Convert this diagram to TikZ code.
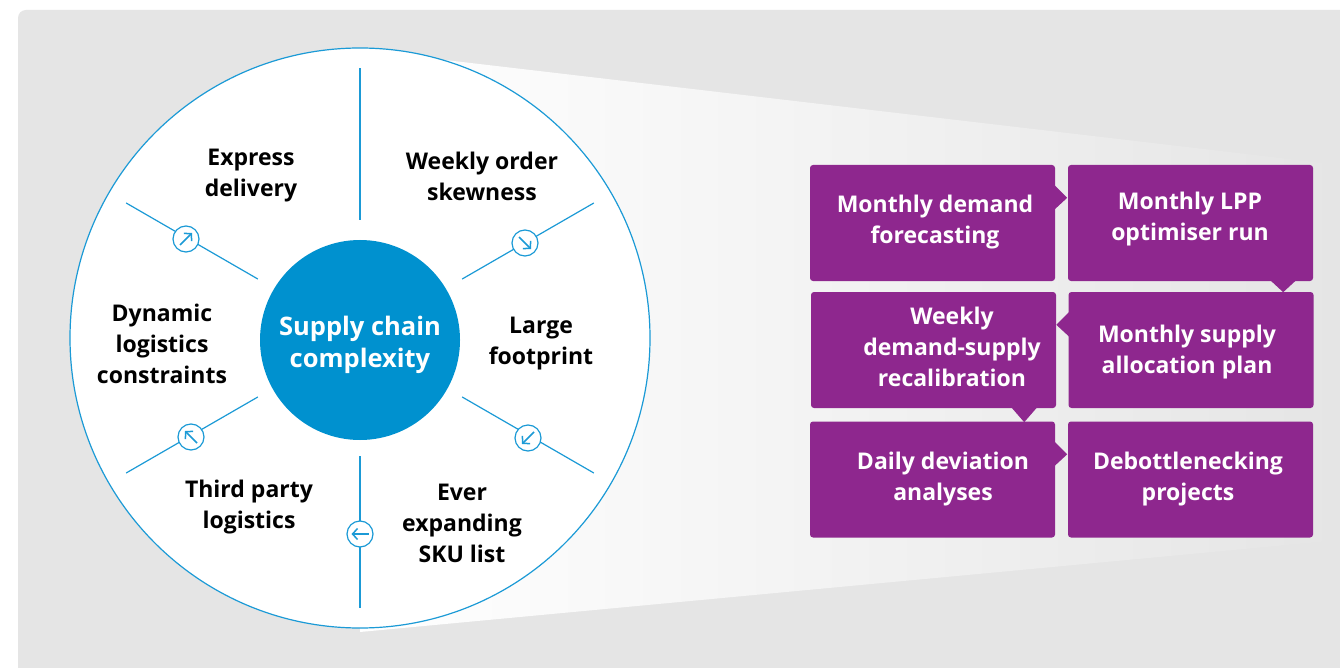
\documentclass[tikz,border=0pt]{standalone}
\usepackage{fontspec}
\setmainfont{Open Sans}
\usetikzlibrary{arrows.meta,calc}
\definecolor{bggray}{HTML}{E5E5E5}
\definecolor{cblue}{HTML}{0091CF}
\definecolor{lblue}{HTML}{1B9AD6}
\definecolor{purp}{HTML}{8E278E}
\begin{document}
\begin{tikzpicture}[x=1pt,y=-1pt,
  lbl/.style={font=\fontsize{23}{31}\selectfont\bfseries, align=center, text=black, inner sep=0pt},
  wlbl/.style={lbl, text=white},
  corelbl/.style={font=\fontsize{25.5}{32}\selectfont\bfseries, align=center, text=white, inner sep=0pt},
  box/.style={fill=purp, rounded corners=3pt, minimum width=245pt, minimum height=116pt, inner sep=0pt},
  tab/.style={fill=purp},
  spoke/.style={draw=lblue, line width=1.2pt},
  mini/.style={circle, draw=lblue, fill=white, line width=1.2pt, minimum size=26pt, inner sep=0pt},
  dirarrow/.style={draw=lblue, line width=1.5pt, -{Straight Barb[length=5pt,width=11pt]}}]
\useasboundingbox (0,0) rectangle (1340,668);
\clip (0,0) rectangle (1340,668);
\fill[white] (0,0) rectangle (1340,668);
\fill[bggray, rounded corners=8pt] (18,10) rectangle (1400,720);
% wedge
\shade[left color=white, right color=bggray] (360,50) -- (1340,165) -- (1340,540) -- (360,632) -- cycle;
% big circle
\node (big) [circle, draw=lblue, line width=1.2pt, fill=white, minimum size=580pt, inner sep=0pt] at (360,338) {};
% spokes
\foreach \a/\n in {90/t,30/ur,-30/lr,-90/b,210/ll,150/ul}{
  \coordinate (s\n1) at ($(big.center)+(\a:118)$);
  \coordinate (s\n2) at ($(big.center)+(\a:270)$);
  \draw[spoke] (s\n1) -- (s\n2);
}
% inner circle
\node (core) [circle, fill=cblue, minimum size=200pt, inner sep=0pt] at (360,340) {};
\node[corelbl] (coret) at (360,345) {Supply chain\\complexity};
% mini circles with arrows
\node[mini] (m1) at (186,239) {};
\node[mini] (m2) at (525,243) {};
\node[mini] (m3) at (528,438) {};
\node[mini] (m4) at (360,534) {};
\node[mini] (m5) at (191,437) {};
\draw[dirarrow] ($(m1)+(-6,6)$) -- ($(m1)+(6,-6)$);
\draw[dirarrow] ($(m2)+(-6,-6)$) -- ($(m2)+(6,6)$);
\draw[dirarrow] ($(m3)+(6,-6)$) -- ($(m3)+(-6,6)$);
\draw[dirarrow] ($(m4)+(8.5,0)$) -- ($(m4)+(-8.5,0)$);
\draw[dirarrow] ($(m5)+(6,6)$) -- ($(m5)+(-6,-6)$);
% labels
\node[lbl] (l1) at (251,176) {Express\\delivery};
\node[lbl] (l2) at (482,176) {Weekly order\\skewness};
\node[lbl] (l3) at (162,344) {Dynamic\\logistics\\constraints};
\node[lbl] (l4) at (541,344) {Large\\footprint};
\node[lbl] (l5) at (249,507) {Third party\\logistics};
\node[lbl] (l6) at (462,523) {Ever\\expanding\\SKU list};
% boxes
\node[box] (b1) at (932.5,223) {};
\node[box] (b2) at (1190.5,223) {};
\node[box] (b3) at (933.5,350) {};
\node[box] (b4) at (1191,350) {};
\node[box] (b5) at (932.5,479.5) {};
\node[box] (b6) at (1190.5,479.5) {};
% tabs
\fill[tab] ($(b1.north east)+(-1,20)$) -- ($(b1.north east)+(12,33)$) -- ($(b1.north east)+(-1,45)$) -- cycle;
\fill[tab] ($(b2.south east)+(-43,-1)$) -- ($(b2.south east)+(-30,11)$) -- ($(b2.south east)+(-17,-1)$) -- cycle;
\fill[tab] ($(b4.north west)+(1,20)$) -- ($(b4.north west)+(-12,33)$) -- ($(b4.north west)+(1,45)$) -- cycle;
\fill[tab] ($(b3.south east)+(-45,-1)$) -- ($(b3.south east)+(-32,14)$) -- ($(b3.south east)+(-19,-1)$) -- cycle;
\fill[tab] ($(b5.north east)+(-1,20)$) -- ($(b5.north east)+(12,33)$) -- ($(b5.north east)+(-1,45)$) -- cycle;
% box texts
\node[wlbl] (t1) at (935,222) {Monthly demand\\forecasting};
\node[wlbl] (t2) at (1190,219) {Monthly LPP\\optimiser run};
\node[wlbl] (t3) at (952,347) {Weekly\\demand-supply\\recalibration};
\node[wlbl] (t4) at (1187,352) {Monthly supply\\allocation plan};
\node[wlbl] (t5) at (943,479) {Daily deviation\\analyses};
\node[wlbl] (t6) at (1188,479) {Debottlenecking\\projects};
\end{tikzpicture}
\end{document}
